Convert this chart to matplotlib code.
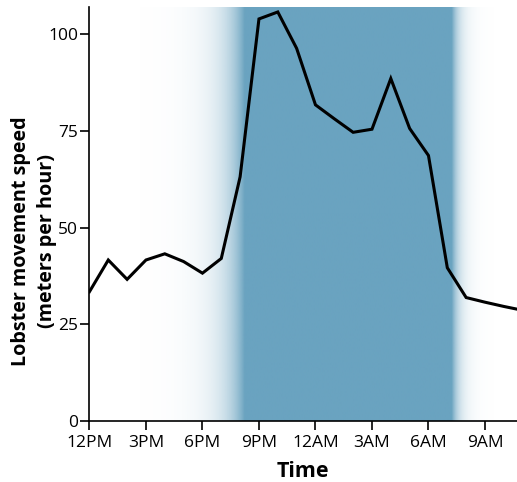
import numpy as np
import matplotlib
matplotlib.use("Agg")
import matplotlib.pyplot as plt
from matplotlib.colors import to_rgb

hours = list(range(0, 24))
speed = [33.4, 41.6, 36.6, 41.6, 43.2, 41.2, 38.2, 42.0, 63.1, 103.9,
         105.7, 96.3, 81.7, 78.1, 74.6, 75.4, 88.5, 75.6, 68.6, 39.6,
         31.9, 30.7, 29.6, 28.6]
tick_hours = [0, 3, 6, 9, 12, 15, 18, 21]
tick_labels = ["12PM", "3PM", "6PM", "9PM", "12AM", "3AM", "6AM", "9AM"]
y_ticks = [0, 25, 50, 75, 100]
night_start, night_end = 8.25, 19.25

plt.rcParams['font.family'] = ['Open Sans', 'DejaVu Sans']
fig = plt.figure(figsize=(5.17, 4.82), dpi=100)
ax = fig.add_axes([0.173, 0.1266, 0.827, 0.859])

xmax, ymax = 22.7, 107
xs = np.linspace(0, xmax, 1200)
alpha = np.ones_like(xs)
left = xs < night_start
right = xs > night_end
alpha[left] = np.exp(-(night_start - xs[left]) / 1.0)
alpha[right] = np.exp(-(xs[right] - night_end) / 0.4)
col = to_rgb("#6aa3c0")
img = np.zeros((1, len(xs), 4))
img[0, :, 0], img[0, :, 1], img[0, :, 2] = col
img[0, :, 3] = alpha
ax.imshow(img, extent=[0, xmax, 0, ymax], aspect='auto', interpolation='bilinear', zorder=0)

ax.plot(hours, speed, color='black', lw=2.2, zorder=2, solid_joinstyle='miter')
ax.set_xlim(0, xmax)
ax.set_ylim(0, ymax)
ax.set_xticks(tick_hours)
ax.set_xticklabels(tick_labels)
ax.set_yticks(y_ticks)
for s in ['top', 'right']:
    ax.spines[s].set_visible(False)
for s in ['left', 'bottom']:
    ax.spines[s].set_linewidth(1.2)
ax.tick_params(axis='both', labelsize=12.5, length=6.5, width=1.2)
ax.tick_params(axis='x', pad=3.5)
ax.tick_params(axis='y', pad=1.5)
ax.set_xlabel("Time", fontsize=15.5, fontweight='bold')
ax.xaxis.set_label_coords(0.5, -0.097)
ax.set_ylabel("Lobster movement speed\n(meters per hour)", fontsize=14.2,
              fontweight='bold', linespacing=1.4)
ax.yaxis.set_label_coords(-0.076, 0.435)
fig.savefig("out.png", dpi=100)
